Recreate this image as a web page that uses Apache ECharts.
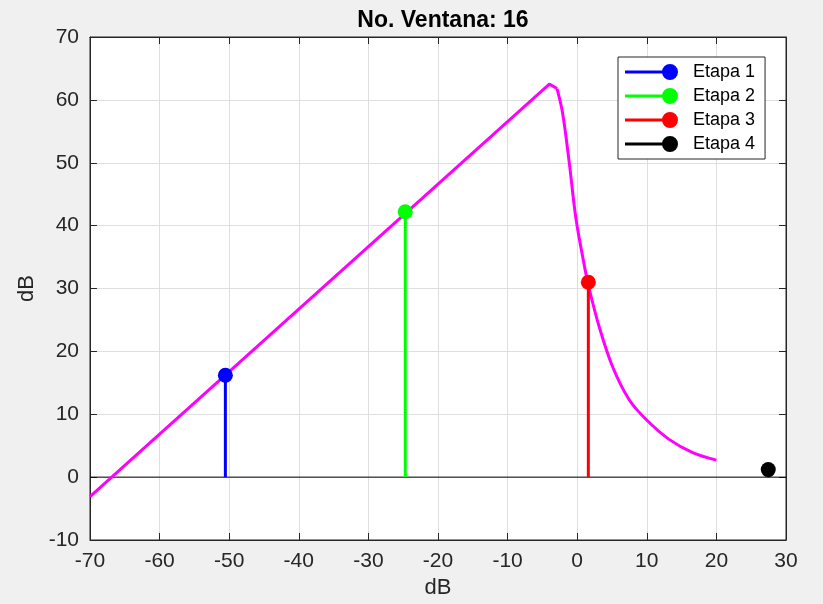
<!DOCTYPE html>
<html>
<head>
<meta charset="utf-8">
<script src="https://cdn.jsdelivr.net/npm/echarts@6/dist/echarts.min.js"></script>
<style>
  html, body { margin: 0; padding: 0; background: #f0f0f0; }
  #chart { width: 823px; height: 604px; }
</style>
</head>
<body>
<div id="chart"></div>
<script>
// Spectrum curve: rising straight part up to the peak
const riseX = [-70, -4.0, -2.9];
const riseY = [-3.1, 62.5, 61.8];
// Spectrum curve: falling part after the peak
const fallX = [-2.9, -2.11, -1.15, -0.19, 1.0, 1.72, 3.16, 5.07, 7.47, 9.87, 13.2, 16.6, 20];
const fallY = [61.8, 58.0, 50.1, 41.2, 33.8, 30.0, 23.9, 17.6, 12.3, 9.2, 6.0, 3.9, 2.7];

// Stage stems: name, x, y
const stageNames = ['Etapa 1', 'Etapa 2', 'Etapa 3', 'Etapa 4'];
const stageX = [-50.55, -24.7, 1.6, 27.45];
const stageY = [16.2, 42.2, 31.0, 1.2];
const stageColors = ['#0000ff', '#00ff00', '#ff0000', '#000000'];

// Axis ranges and ticks
const xMin = -70, xMax = 30, xStep = 10;
const yMin = -10, yMax = 70, yStep = 10;

const FONT = '"Liberation Sans", Arial, Helvetica, sans-serif';
const AX = '#262626';

// Legend glyph: short line ending in a filled circle
const stemIcon = 'path://M0,6.5 L45,6.5 L45,9.5 L0,9.5 Z M37,8 A8,8 0 1,1 53,8 A8,8 0 1,1 37,8 Z';

const chart = echarts.init(document.getElementById('chart'), null, { renderer: 'canvas' });

const pairs = (xs, ys) => xs.map((x, i) => [x, ys[i]]);

const stemSeries = stageNames.map((name, i) => ({
  name: name,
  type: 'line',
  data: [
    { value: [stageX[i], 0], symbol: 'none' },
    { value: [stageX[i], stageY[i]] }
  ],
  symbol: 'circle',
  symbolSize: 15,
  showSymbol: true,
  lineStyle: { color: stageColors[i], width: 3 },
  itemStyle: { color: stageColors[i], borderWidth: 0 },
  z: 4
}));

const tickCommon = { show: true, inside: true, length: 7, lineStyle: { color: AX, width: 1 } };

const curveStyle = { color: '#ff00ff', width: 3 };

chart.setOption({
  backgroundColor: '#f0f0f0',
  animation: false,
  title: {
    text: 'No. Ventana: 16',
    left: 438,
    textAlign: 'center',
    top: 4,
    textStyle: { fontFamily: FONT, fontSize: 23, fontWeight: 'bold', color: '#000' }
  },
  legend: {
    orient: 'vertical',
    left: 618,
    top: 57,
    data: stageNames,
    icon: stemIcon,
    itemWidth: 53,
    itemHeight: 16,
    itemGap: 6,
    padding: [6, 10, 6, 7],
    backgroundColor: '#ffffff',
    borderColor: AX,
    borderWidth: 1,
    borderRadius: 0,
    textStyle: { fontFamily: FONT, fontSize: 18, color: '#000', padding: [0, 0, 0, 10] }
  },
  grid: {
    left: 90, right: 37, top: 37, bottom: 59,
    show: true,
    backgroundColor: '#ffffff',
    borderColor: AX,
    borderWidth: 1
  },
  xAxis: [
    {
      type: 'value', position: 'bottom',
      min: xMin, max: xMax, interval: xStep,
      name: 'dB', nameLocation: 'middle', nameGap: 37,
      nameTextStyle: { fontFamily: FONT, fontSize: 22, color: AX },
      axisLine: { show: true, onZero: false, lineStyle: { color: AX, width: 1 } },
      axisTick: tickCommon,
      axisLabel: { fontFamily: FONT, fontSize: 21, color: AX, margin: 11 },
      splitLine: { show: true, lineStyle: { color: '#dfdfdf', width: 1 } }
    },
    {
      type: 'value', position: 'top',
      min: xMin, max: xMax, interval: xStep,
      axisLine: { show: true, onZero: false, lineStyle: { color: AX, width: 1 } },
      axisTick: tickCommon,
      axisLabel: { show: false },
      splitLine: { show: false }
    }
  ],
  yAxis: [
    {
      type: 'value', position: 'left',
      min: yMin, max: yMax, interval: yStep,
      name: 'dB', nameLocation: 'middle', nameGap: 49, nameRotate: 90,
      nameTextStyle: { fontFamily: FONT, fontSize: 22, color: AX },
      axisLine: { show: true, onZero: false, lineStyle: { color: AX, width: 1 } },
      axisTick: tickCommon,
      axisLabel: { fontFamily: FONT, fontSize: 21, color: AX, margin: 11 },
      splitLine: { show: true, lineStyle: { color: '#dfdfdf', width: 1 } }
    },
    {
      type: 'value', position: 'right',
      min: yMin, max: yMax, interval: yStep,
      axisLine: { show: true, onZero: false, lineStyle: { color: AX, width: 1 } },
      axisTick: tickCommon,
      axisLabel: { show: false },
      splitLine: { show: false }
    }
  ],
  series: [
    {
      name: 'baseline',
      type: 'line',
      data: [[xMin, 0], [xMax, 0]],
      symbol: 'none',
      lineStyle: { color: '#000000', width: 1 },
      z: 2,
      silent: true
    },
    {
      name: 'subida',
      type: 'line',
      data: pairs(riseX, riseY),
      symbol: 'none',
      lineStyle: curveStyle,
      z: 3,
      silent: true
    },
    {
      name: 'bajada',
      type: 'line',
      data: pairs(fallX, fallY),
      smooth: 0.35,
      symbol: 'none',
      lineStyle: curveStyle,
      z: 3,
      silent: true
    },
    ...stemSeries
  ]
});
</script>
</body>
</html>
